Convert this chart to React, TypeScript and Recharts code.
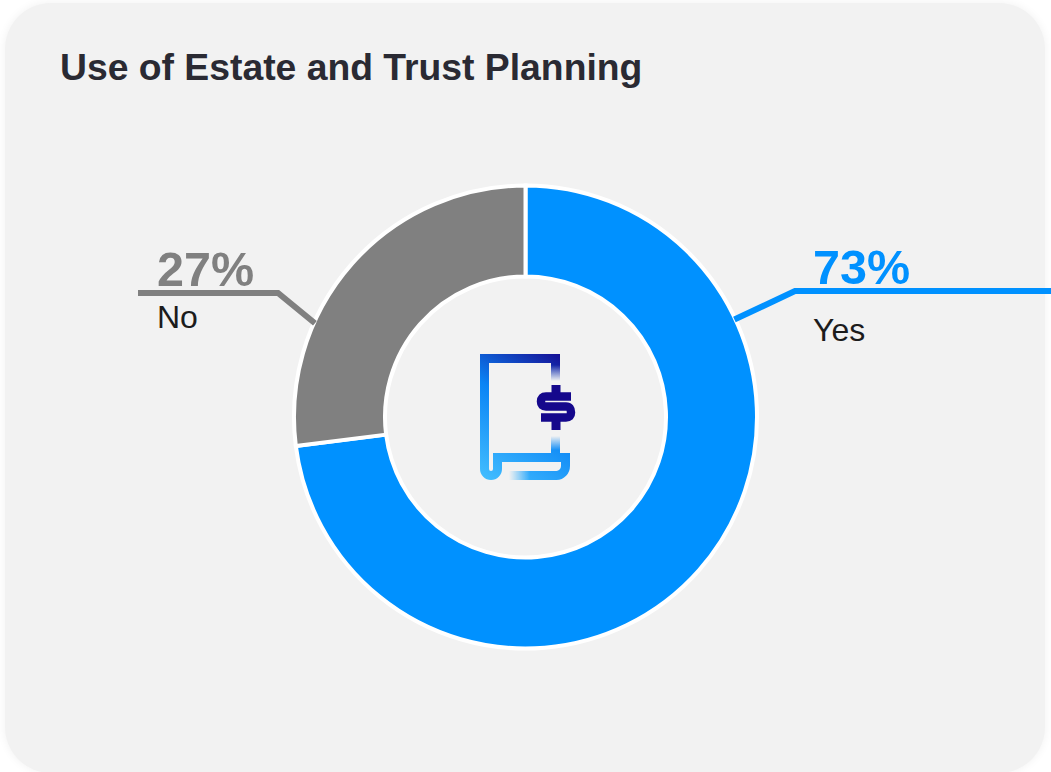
import { Pie, PieChart } from 'recharts';

const categories = ['Yes', 'No'];
const shares = [73, 27];
const sliceColors = ['#0091ff', '#808080'];

const pieData = categories.map((name, i) => ({ name, value: shares[i], fill: sliceColors[i] }));

// where each leader leaves the ring, in degrees clockwise from 12 o'clock
const leaderAngles = [65, 294];
const leaderElbowX = [795, 278];
const leaderEndX = [1051, 138];
const leaderY = [291, 293];
const valueLabelX = [813, 157];
const valueLabelY = [284, 286];
const nameLabelY = [341, 328];

function SliceLabel(props: any) {
  const { cx, cy, outerRadius, index, name, value, fill } = props;
  const a = (leaderAngles[index] * Math.PI) / 180;
  const x0 = cx + Math.sin(a) * (outerRadius - 1);
  const y0 = cy - Math.cos(a) * (outerRadius - 1);
  return (
    <g>
      <polyline
        points={`${x0},${y0} ${leaderElbowX[index]},${leaderY[index]} ${leaderEndX[index]},${leaderY[index]}`}
        fill="none"
        stroke={fill}
        strokeWidth={6}
      />
      <text x={valueLabelX[index]} y={valueLabelY[index]} fill={fill} fontSize={48.5} fontWeight={700} fontFamily="Liberation Sans">
        {value}%
      </text>
      <text x={valueLabelX[index]} y={nameLabelY[index]} fill="#1c1c1c" fontSize={32} fontFamily="Liberation Sans">
        {name}
      </text>
    </g>
  );
}

// rolled document with a dollar sign, sits in the hole of the donut
function DocumentIcon() {
  return (
    <svg width={1051} height={772} style={{ position: 'absolute', left: 0, top: 0, pointerEvents: 'none' }}>
      <defs>
        <linearGradient id="docStroke" gradientUnits="userSpaceOnUse" x1={560} y1={350} x2={478} y2={480}>
          <stop offset="0" stopColor="#17088f" />
          <stop offset="0.45" stopColor="#0a84f5" />
          <stop offset="1" stopColor="#45c0ff" />
        </linearGradient>
        <linearGradient id="fadeTop" gradientUnits="userSpaceOnUse" x1={0} y1={365} x2={0} y2={381}>
          <stop offset="0" stopColor="#fff" />
          <stop offset="1" stopColor="#000" />
        </linearGradient>
        <linearGradient id="fadeMid" gradientUnits="userSpaceOnUse" x1={0} y1={436} x2={0} y2={450}>
          <stop offset="0" stopColor="#000" />
          <stop offset="1" stopColor="#fff" />
        </linearGradient>
        <linearGradient id="fadeFoot" gradientUnits="userSpaceOnUse" x1={509} y1={0} x2={530} y2={0}>
          <stop offset="0" stopColor="#000" />
          <stop offset="1" stopColor="#fff" />
        </linearGradient>
        <mask id="docFade" maskUnits="userSpaceOnUse" x={470} y={345} width={110} height={145}>
          <rect x={470} y={345} width={110} height={145} fill="#fff" />
          <rect x={545} y={345} width={20} height={50} fill="url(#fadeTop)" />
          <rect x={545} y={395} width={20} height={55} fill="url(#fadeMid)" />
          <rect x={505} y={466} width={25} height={18} fill="url(#fadeFoot)" />
        </mask>
      </defs>
      <g mask="url(#docFade)" fill="none" stroke="url(#docStroke)" strokeWidth={9}>
        <path d="M555.5 385 V358.5 H484.5 V469 a6.5 6.5 0 0 0 13 0 V457.5 H565.5 V466 a9 9.5 0 0 1 -9 9.5 H508" />
        <path d="M555.5 436 V457" />
      </g>
      <path
        d="M571 396.5 H546 q-5 0 -5 5 q0 5 5 5 H566 q5 0 5 6 q0 5 -5 5 H541"
        fill="none"
        stroke="#15088c"
        strokeWidth={8.5}
      />
      <rect x={551.5} y={385} width={9} height={9} fill="#15088c" />
      <rect x={551.5} y={420} width={9} height={10} fill="#15088c" />
    </svg>
  );
}

export default function App() {
  return (
    <div style={{ position: 'fixed', left: 0, top: 0, width: 1051, height: 772, overflow: 'hidden', background: '#fff' }}>
      <div
        style={{
          position: 'absolute',
          left: 5,
          top: 3,
          width: 1040,
          height: 770,
          borderRadius: 46,
          background: '#f2f2f2',
          boxShadow: '0 0 10px rgba(0,0,0,0.06)',
        }}
      />
      <div
        style={{
          position: 'absolute',
          left: 60,
          top: 44,
          fontFamily: 'Liberation Sans',
          fontWeight: 700,
          fontSize: 37.3,
          lineHeight: '46px',
          color: '#2a2a33',
          whiteSpace: 'nowrap',
        }}
      >
        Use of Estate and Trust Planning
      </div>
      <div style={{ position: 'absolute', left: 0, top: 0 }}>
        <PieChart width={1051} height={772} margin={{ top: 0, right: 0, bottom: 0, left: 0 }}>
          <Pie
            data={pieData}
            dataKey="value"
            nameKey="name"
            cx={525.5}
            cy={417}
            innerRadius={140.5}
            outerRadius={231.5}
            startAngle={90}
            endAngle={-270}
            stroke="#ffffff"
            strokeWidth={4}
            label={SliceLabel}
            labelLine={false}
            isAnimationActive={false}
          />
        </PieChart>
      </div>
      <DocumentIcon />
    </div>
  );
}
